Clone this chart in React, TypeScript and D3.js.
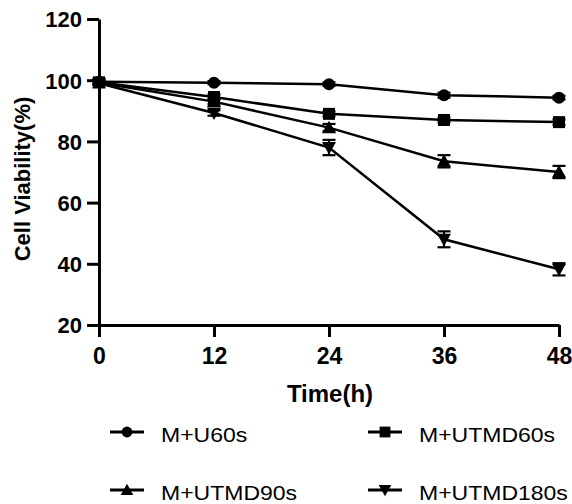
import React, { useEffect, useRef } from 'react';
import * as d3 from 'd3';

// time points (h) and mean viability per group
const times = [0, 12, 24, 36, 48];
const seriesNames = ['M+U60s', 'M+UTMD60s', 'M+UTMD90s', 'M+UTMD180s'];
const u60 = [99.5, 99.2, 98.7, 95.1, 94.3];
const utmd60 = [99.3, 94.5, 89.0, 87.0, 86.3];
const utmd90 = [99.2, 93.0, 84.5, 73.5, 70.0];
const utmd180 = [99.0, 89.3, 78.0, 48.0, 38.2];
// error (SD) per point
const u60Err = [0.5, 0.5, 0.6, 0.8, 0.6];
const utmd60Err = [0.6, 0.8, 0.8, 0.8, 0.9];
const utmd90Err = [0.6, 0.8, 1.2, 2.0, 2.0];
const utmd180Err = [0.6, 0.9, 2.5, 2.6, 2.0];
const symbols = ['circle', 'square', 'up', 'down'];
const yTicks = [20, 40, 60, 80, 100, 120];

export default function App() {
  const ref = useRef<SVGSVGElement>(null);

  useEffect(() => {
    const svg = d3.select(ref.current);
    svg.selectAll('*').remove();

    const x = d3.scaleLinear().domain([0, 48]).range([99, 559]);
    const y = d3.scaleLinear().domain([20, 120]).range([325, 19]);
    const font = 'Liberation Sans, Arial, sans-serif';

    const data = [u60, utmd60, utmd90, utmd180];
    const errs = [u60Err, utmd60Err, utmd90Err, utmd180Err];

    const marker = (g: any, kind: string, cx: number, cy: number, s = 1) => {
      if (kind === 'circle') {
        g.append('circle').attr('cx', cx).attr('cy', cy).attr('r', 6 * s).attr('fill', '#000');
      } else if (kind === 'square') {
        g.append('rect').attr('x', cx - 6 * s).attr('y', cy - 6 * s).attr('width', 12 * s).attr('height', 12 * s).attr('fill', '#000');
      } else if (kind === 'up') {
        g.append('path').attr('d', `M${cx},${cy - 7 * s}L${cx + 7 * s},${cy + 5.5 * s}L${cx - 7 * s},${cy + 5.5 * s}Z`).attr('fill', '#000');
      } else {
        g.append('path').attr('d', `M${cx},${cy + 7 * s}L${cx + 7 * s},${cy - 5.5 * s}L${cx - 7 * s},${cy - 5.5 * s}Z`).attr('fill', '#000');
      }
    };

    // axes
    const yAxis = svg.append('g').attr('transform', 'translate(99,0)')
      .call(d3.axisLeft(y).tickValues(yTicks).tickSize(12).tickSizeOuter(0));
    const xAxis = svg.append('g').attr('transform', 'translate(0,325)')
      .call(d3.axisBottom(x).tickValues(times).tickSize(12).tickSizeOuter(0));
    [yAxis, xAxis].forEach((a) => {
      a.select('.domain').attr('stroke-width', 3).attr('stroke', '#000');
      a.selectAll('line').attr('stroke-width', 3).attr('stroke', '#000');
      a.selectAll('text').attr('font-family', font).attr('font-weight', 'bold')
        .attr('font-size', 22).attr('fill', '#000');
    });
    yAxis.selectAll('text').attr('x', -17).attr('dy', '0.36em');
    xAxis.selectAll('text').attr('y', 23).attr('font-size', 23);

    svg.append('text').attr('x', 330).attr('y', 402).attr('text-anchor', 'middle')
      .attr('font-family', font).attr('font-weight', 'bold').attr('font-size', 24).text('Time(h)');
    svg.append('text').attr('transform', 'translate(30,179) rotate(-90)').attr('text-anchor', 'middle')
      .attr('font-family', font).attr('font-weight', 'bold').attr('font-size', 22).text('Cell Viability(%)');

    const line = d3.line<number>().x((_, i) => x(times[i])).y((d) => y(d));

    data.forEach((vals, si) => {
      const g = svg.append('g');
      g.append('path').attr('d', line(vals)).attr('fill', 'none').attr('stroke', '#000').attr('stroke-width', 2.5);
      vals.forEach((v, i) => {
        const e = errs[si][i];
        const cx = x(times[i]);
        g.append('line').attr('x1', cx).attr('x2', cx).attr('y1', y(v - e)).attr('y2', y(v + e))
          .attr('stroke', '#000').attr('stroke-width', 2.2);
        [v - e, v + e].forEach((ev) => {
          g.append('line').attr('x1', cx - 6.5).attr('x2', cx + 6.5).attr('y1', y(ev)).attr('y2', y(ev))
            .attr('stroke', '#000').attr('stroke-width', 2.2);
        });
        marker(g, symbols[si], cx, y(v));
      });
    });

    // legend
    const legPos = [[127, 432], [385, 432], [127, 490], [385, 490]];
    seriesNames.forEach((name, i) => {
      const [lx, ly] = legPos[i];
      const g = svg.append('g');
      g.append('line').attr('x1', lx - 17).attr('x2', lx + 17).attr('y1', ly).attr('y2', ly)
        .attr('stroke', '#000').attr('stroke-width', 3);
      marker(g, symbols[i], lx, ly, 0.9);
      g.append('text').attr('transform', `translate(${lx + 34},${ly + 10}) scale(1.15,1)`)
        .attr('font-family', font).attr('font-size', 20).attr('fill', '#000').text(name);
    });
  }, []);

  return (
    <svg ref={ref} width={572} height={504} style={{ position: 'absolute', left: 0, top: 0, background: '#fff' }} />
  );
}
